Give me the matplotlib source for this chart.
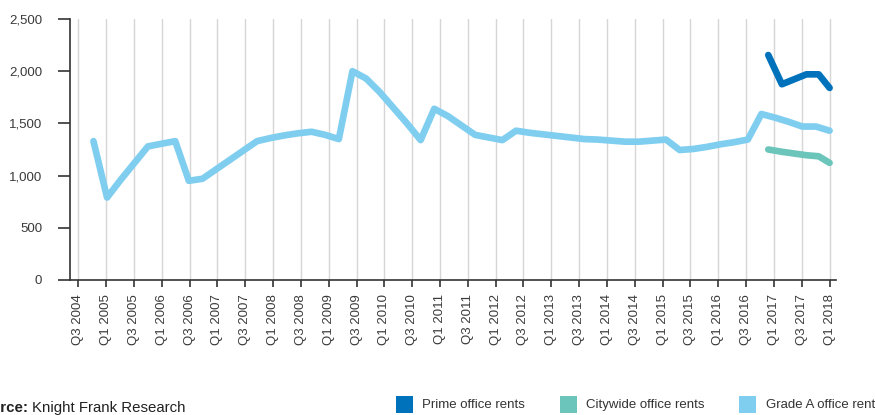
import matplotlib
matplotlib.use("Agg")
import matplotlib.pyplot as plt
from matplotlib.patches import Rectangle
import numpy as np

plt.rcParams['font.family'] = ['Liberation Sans', 'DejaVu Sans']

# Half-yearly tick labels on the x axis
tick_labels = ['Q3 2004', 'Q1 2005', 'Q3 2005', 'Q1 2006', 'Q3 2006', 'Q1 2007',
               'Q3 2007', 'Q1 2008', 'Q3 2008', 'Q1 2009', 'Q3 2009', 'Q1 2010',
               'Q3 2010', 'Q1 2011', 'Q3 2011', 'Q1 2012', 'Q3 2012', 'Q1 2013',
               'Q3 2013', 'Q1 2014', 'Q3 2014', 'Q1 2015', 'Q3 2015', 'Q1 2016',
               'Q3 2016', 'Q1 2017', 'Q3 2017', 'Q1 2018']

# Grade A office rents, one value per quarter
grade_a = [1330, 790, 960, 1120, 1280, 1305, 1330, 950, 970, 1060,
           1150, 1240, 1330, 1360, 1385, 1405, 1420, 1390, 1350, 2000,
           1930, 1800, 1650, 1500, 1340, 1640, 1570, 1480, 1390, 1365,
           1340, 1430, 1410, 1395, 1380, 1365, 1350, 1345, 1335, 1325,
           1325, 1335, 1345, 1245, 1255, 1275, 1300, 1320, 1345, 1590,
           1555, 1515, 1470, 1470, 1430]

# Prime and citywide series only cover the last few periods
recent_x = [49.5, 50.5, 52.3, 53.2, 54]
prime = [2155, 1875, 1970, 1970, 1840]
citywide = [1250, 1228, 1195, 1185, 1122]

series_names = ['Prime office rents', 'Citywide office rents', 'Grade A office rents']
colors = ['#0072BB', '#6CC5BA', '#7FCEF0']

W, H = 875, 415
fig = plt.figure(figsize=(W / 100, H / 100), dpi=100)
ax = fig.add_axes([70 / W, (H - 280) / H, (836 - 70) / W, (280 - 19) / H])

x_grade = np.arange(len(grade_a))
tick_pos = np.linspace(-1.115, 54.0, len(tick_labels))

lw = 4.8
ax.plot(x_grade, grade_a, color=colors[2], lw=lw, solid_capstyle='round',
        solid_joinstyle='round', zorder=3)
ax.plot(recent_x, citywide, color=colors[1], lw=lw, solid_capstyle='round',
        solid_joinstyle='round', zorder=3)
ax.plot(recent_x, prime, color=colors[0], lw=lw, solid_capstyle='round',
        solid_joinstyle='round', zorder=3)

ax.set_xlim(-1.72, 54.47)
ax.set_ylim(0, 2500)
ax.set_yticks([0, 500, 1000, 1500, 2000, 2500])
ax.set_yticklabels(['0', '500', '1,000', '1,500', '2,000', '2,500'])
ax.set_xticks(tick_pos)
ax.set_xticklabels(tick_labels, rotation=90)

for x in tick_pos:
    ax.axvline(x, color='#d6d6d6', lw=1.0, zorder=1)

for side in ['top', 'right']:
    ax.spines[side].set_visible(False)
for side in ['left', 'bottom']:
    ax.spines[side].set_color('#333333')
    ax.spines[side].set_linewidth(1.2)

ax.tick_params(axis='y', length=8.6, width=1.2, color='#333333', pad=11.5,
               labelsize=9.5, labelcolor='#3a3a3a')
ax.tick_params(axis='x', length=5, width=1.2, color='#333333', pad=5,
               labelsize=9.5, labelcolor='#3a3a3a')

# Source note along the bottom left
fig.text(28.5 / W, 1 - 412 / H, 'Source:', ha='right', va='baseline',
         fontsize=10.8, fontweight='bold', color='#222222')
fig.text(32 / W, 1 - 412 / H, 'Knight Frank Research', ha='left', va='baseline',
         fontsize=10.8, color='#222222')

# Legend drawn as coloured squares with labels
legend_x = [396, 560, 739]
for lx, name, c in zip(legend_x, series_names, colors):
    fig.patches.append(Rectangle((lx / W, 1 - 413 / H), 17 / W, 17 / H,
                                 transform=fig.transFigure, color=c, lw=0))
    fig.text((lx + 26.5) / W, 1 - 405 / H, name, ha='left', va='center',
             fontsize=9.5, color='#333333')

fig.savefig('out.png', dpi=100)
